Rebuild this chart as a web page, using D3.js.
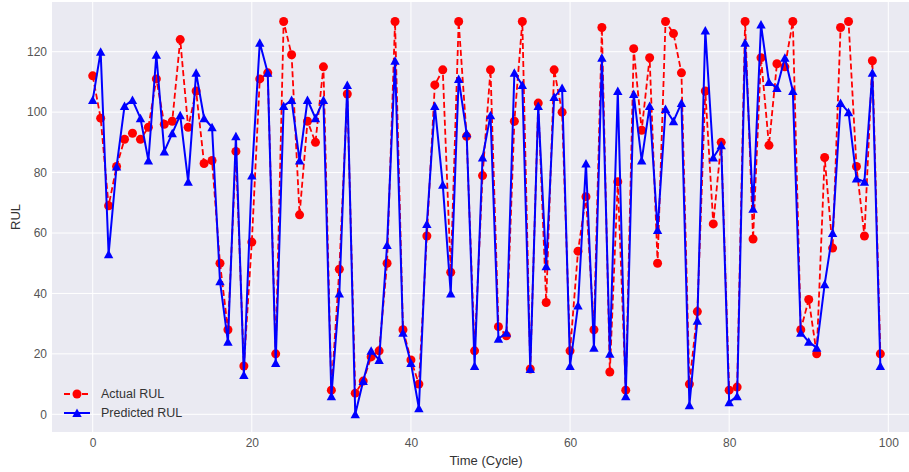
<!DOCTYPE html>
<html>
<head>
<meta charset="utf-8">
<script src="https://cdn.jsdelivr.net/npm/d3@7.9.0/dist/d3.min.js"></script>
<style>
  html, body { margin: 0; padding: 0; background: #fff; }
  svg { display: block; font-family: "Liberation Sans", Arial, sans-serif; }
</style>
</head>
<body>
<svg id="chart" width="909" height="472"></svg>
<script>
const actualRul = [
  112, 98, 69, 82, 91, 93, 91, 95, 111, 96,
  97, 124, 95, 107, 83, 84, 50, 28, 87, 16,
  57, 111, 113, 20, 130, 119, 66, 97, 90, 115,
  8, 48, 106, 7, 11, 19, 21, 50, 130, 28,
  18, 10, 59, 109, 114, 47, 130, 92, 21, 79,
  114, 29, 26, 97, 130, 15, 103, 37, 114, 100,
  21, 54, 72, 28, 128, 14, 77, 8, 121, 94,
  118, 50, 130, 126, 113, 10, 34, 107, 63, 90,
  8, 9, 130, 58, 118, 89, 116, 115, 130, 28,
  38, 20, 85, 55, 128, 130, 82, 59, 117, 20,
];

const predictedRul = [
  104, 120, 53, 82, 102, 104, 98, 84, 119, 87,
  93, 99, 77, 113, 98, 95, 44, 24, 92, 13,
  79, 123, 113, 17, 102, 104, 84, 104, 98, 104,
  6, 40, 109, 0, 11, 21, 18, 56, 117, 27,
  17, 2, 63, 102, 76, 40, 111, 93, 16, 85,
  99, 25, 27, 113, 109, 15, 102, 49, 105, 108,
  16, 36, 83, 22, 118, 20, 107, 6, 106, 84,
  102, 61, 101, 97, 103, 3, 31, 127, 85, 89,
  4, 6, 123, 68, 129, 110, 108, 118, 107, 27,
  24, 22, 43, 60, 103, 100, 78, 77, 113, 16,
];

const xTicks = [0, 20, 40, 60, 80, 100];
const yTicks = [0, 20, 40, 60, 80, 100, 120];

const svg = d3.select("#chart");
// the axes box runs past the right edge of the picture (x ~ 920), so it is clipped
const plot = { left: 52, top: 2, right: 920, bottom: 432 };

const x = d3.scaleLinear().domain([0, 100]).range([92.7, 888.3]);
const y = d3.scaleLinear().domain([0, 120]).range([414.3, 51.7]);

svg.append("defs").append("clipPath").attr("id", "plot-clip")
  .append("rect")
  .attr("x", plot.left).attr("y", plot.top)
  .attr("width", plot.right - plot.left).attr("height", plot.bottom - plot.top);

svg.append("rect")
  .attr("x", plot.left).attr("y", plot.top)
  .attr("width", plot.right - plot.left).attr("height", plot.bottom - plot.top)
  .attr("fill", "#eaeaf2");

const grid = svg.append("g").attr("clip-path", "url(#plot-clip)");
grid.selectAll(".vgrid").data(xTicks).join("line")
  .attr("x1", (d) => x(d)).attr("x2", (d) => x(d))
  .attr("y1", plot.top).attr("y2", plot.bottom)
  .attr("stroke", "#fff").attr("stroke-width", 1);
grid.selectAll(".hgrid").data(yTicks).join("line")
  .attr("x1", plot.left).attr("x2", plot.right)
  .attr("y1", (d) => y(d)).attr("y2", (d) => y(d))
  .attr("stroke", "#fff").attr("stroke-width", 1);

// axes (no tick marks, no spines, seaborn darkgrid look)
const xAxis = svg.append("g")
  .attr("transform", `translate(0,${plot.bottom})`)
  .call(d3.axisBottom(x).tickValues(xTicks).tickSize(0).tickPadding(6));
const yAxis = svg.append("g")
  .attr("transform", `translate(${plot.left},0)`)
  .call(d3.axisLeft(y).tickValues(yTicks).tickSize(0).tickPadding(5));

[xAxis, yAxis].forEach((g) => {
  g.select(".domain").remove();
  g.selectAll("text")
    .attr("fill", "#555")
    .style("font-size", "12px")
    .style("font-family", "'Liberation Sans', Arial, sans-serif");
});

svg.append("text")
  .attr("x", (plot.left + plot.right) / 2).attr("y", 464.5)
  .attr("text-anchor", "middle")
  .attr("fill", "#333").style("font-size", "13px")
  .text("Time (Cycle)");

svg.append("text")
  .attr("transform", `translate(20,${(plot.top + plot.bottom) / 2}) rotate(-90)`)
  .attr("text-anchor", "middle")
  .attr("fill", "#333").style("font-size", "13px")
  .text("RUL");

const line = d3.line()
  .x((d, i) => x(i))
  .y((d) => y(d));

function trianglePath(cx, cy) {
  return `M${cx},${cy - 4.5}L${cx - 4.7},${cy + 4}L${cx + 4.7},${cy + 4}Z`;
}

const marks = svg.append("g").attr("clip-path", "url(#plot-clip)");

marks.append("path")
  .datum(actualRul)
  .attr("d", line)
  .attr("fill", "none")
  .attr("stroke", "red")
  .attr("stroke-width", 1.8)
  .attr("stroke-dasharray", "6,3");

marks.selectAll(".actual").data(actualRul).join("circle")
  .attr("cx", (d, i) => x(i))
  .attr("cy", (d) => y(d))
  .attr("r", 4.5)
  .attr("fill", "red");

marks.append("path")
  .datum(predictedRul)
  .attr("d", line)
  .attr("fill", "none")
  .attr("stroke", "blue")
  .attr("stroke-width", 2);

marks.selectAll(".pred").data(predictedRul).join("path")
  .attr("d", (d, i) => trianglePath(x(i), y(d)))
  .attr("fill", "blue");

// legend
const legend = svg.append("g");
const legendItems = [
  { label: "Actual RUL", color: "red", dash: "6,3", marker: "circle", y: 394 },
  { label: "Predicted RUL", color: "blue", dash: null, marker: "triangle", y: 413 },
];
legendItems.forEach((item) => {
  legend.append("line")
    .attr("x1", 64).attr("x2", 90)
    .attr("y1", item.y).attr("y2", item.y)
    .attr("stroke", item.color)
    .attr("stroke-width", item.dash ? 1.8 : 2)
    .attr("stroke-dasharray", item.dash);
  if (item.marker === "circle") {
    legend.append("circle").attr("cx", 77).attr("cy", item.y).attr("r", 4.5).attr("fill", item.color);
  } else {
    legend.append("path").attr("d", trianglePath(77, item.y)).attr("fill", item.color);
  }
  legend.append("text")
    .attr("x", 101).attr("y", item.y)
    .attr("dy", "0.35em")
    .attr("fill", "#333")
    .style("font-size", "12.5px")
    .text(item.label);
});
</script>
</body>
</html>
